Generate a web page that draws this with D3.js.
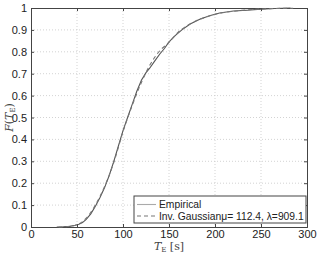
<!DOCTYPE html>
<html lang="en">
<head>
  <meta charset="UTF-8">
  <title>Empirical CDF vs Inverse Gaussian</title>
  <script src="https://d3js.org/d3.v7.min.js"></script>
  <style>
    body { margin: 0; background: #fff; }
  </style>
</head>
<body>
  <script>
    // data
    const empT = [28, 35, 42, 48, 52, 56, 60, 65, 70, 75, 80, 85, 90, 95, 100, 105, 110, 115, 120, 125, 129, 134, 140, 145, 150, 157, 164, 173, 184, 195, 205, 220, 235, 250, 265, 282];
    const empF = [0, 0.001, 0.003, 0.008, 0.013, 0.02, 0.035, 0.06, 0.095, 0.135, 0.18, 0.235, 0.3, 0.37, 0.44, 0.5, 0.56, 0.62, 0.67, 0.705, 0.725, 0.755, 0.79, 0.815, 0.845, 0.875, 0.9, 0.927, 0.95, 0.966, 0.977, 0.986, 0.99, 0.995, 0.998, 1.0];
    const igT = [30, 40, 50, 60, 70, 80, 90, 100, 110, 120, 130, 140, 150, 160, 170, 180, 190, 200, 220, 240, 260, 285];
    const igF = [0, 0.002, 0.01, 0.04, 0.1, 0.185, 0.295, 0.435, 0.555, 0.66, 0.745, 0.805, 0.843, 0.89, 0.92, 0.943, 0.958, 0.971, 0.985, 0.993, 0.997, 0.999];
    const xTicks = [0, 50, 100, 150, 200, 250, 300];
    const yTicks = [0, 0.1, 0.2, 0.3, 0.4, 0.5, 0.6, 0.7, 0.8, 0.9, 1];
    const legendLabels = ["Empirical", "Inv. Gaussian\u03bc= 112.4, \u03bb=909.1"];

    const width = 319, height = 253;
    const margin = { left: 31, right: 12, top: 8, bottom: 26 };
    const pw = width - margin.left - margin.right;
    const ph = height - margin.top - margin.bottom;
    const sans = "Liberation Sans, Arial, sans-serif";
    const serif = "DejaVu Serif, Liberation Serif, serif";

    const svg = d3.select("body").append("svg")
      .attr("width", width).attr("height", height);

    const g = svg.append("g").attr("transform", `translate(${margin.left},${margin.top})`);

    const x = d3.scaleLinear().domain([0, 300]).range([0, pw]);
    const y = d3.scaleLinear().domain([0, 1]).range([ph, 0]);

    // grid
    g.append("g").selectAll("line").data(xTicks.slice(1, -1)).enter().append("line")
      .attr("x1", d => x(d)).attr("x2", d => x(d)).attr("y1", 0).attr("y2", ph)
      .attr("stroke", "#c8c8c8").attr("stroke-width", 0.8).attr("stroke-dasharray", "1,2");
    g.append("g").selectAll("line").data(yTicks.slice(1, -1)).enter().append("line")
      .attr("y1", d => y(d)).attr("y2", d => y(d)).attr("x1", 0).attr("x2", pw)
      .attr("stroke", "#c8c8c8").attr("stroke-width", 0.8).attr("stroke-dasharray", "1,2");

    // axes
    const xAxis = g.append("g").attr("transform", `translate(0,${ph})`)
      .call(d3.axisBottom(x).tickValues(xTicks).tickSize(-3).tickPadding(3).tickFormat(d3.format("d")));
    const yAxis = g.append("g")
      .call(d3.axisLeft(y).tickValues(yTicks).tickSize(-3).tickPadding(4).tickFormat(d => d === 0 || d === 1 ? d : d3.format(".1f")(d)));
    g.append("g").attr("transform", `translate(${pw},0)`)
      .call(d3.axisRight(y).tickValues(yTicks).tickSize(-3).tickFormat(""));
    g.append("g")
      .call(d3.axisTop(x).tickValues(xTicks).tickSize(-3).tickFormat(""));
    [xAxis, yAxis].forEach(a => {
      a.selectAll("text").attr("font-size", 11).attr("font-family", sans).attr("fill", "#222");
    });
    g.selectAll(".domain").attr("stroke", "#444");
    g.selectAll(".tick line").attr("stroke", "#444");

    // curves
    const line = d3.line().x(d => x(d[0])).y(d => y(d[1]));
    g.append("path").datum(empT.map((t, i) => [t, empF[i]]))
      .attr("d", line).attr("fill", "none").attr("stroke", "#555").attr("stroke-width", 1.1);
    g.append("path").datum(igT.map((t, i) => [t, igF[i]]))
      .attr("d", d3.line().curve(d3.curveMonotoneX).x(d => x(d[0])).y(d => y(d[1])))
      .attr("fill", "none").attr("stroke", "#777").attr("stroke-width", 1.1)
      .attr("stroke-dasharray", "4,3");

    // legend
    const lg = svg.append("g").attr("transform", "translate(134,196)");
    lg.append("rect").attr("width", 172).attr("height", 27)
      .attr("fill", "#fff").attr("stroke", "#444").attr("stroke-width", 1);
    legendLabels.forEach((lab, i) => {
      const cy = 8.5 + i * 11.5;
      lg.append("line").attr("x1", 3).attr("x2", 22).attr("y1", cy).attr("y2", cy)
        .attr("stroke", i === 0 ? "#aaa" : "#777").attr("stroke-width", 1.1)
        .attr("stroke-dasharray", i === 0 ? null : "4,3");
      lg.append("text").attr("x", 25).attr("y", cy + 3.6)
        .attr("font-size", 10.3).attr("font-family", sans).attr("fill", "#222").text(lab);
    });

    // axis labels
    const xl = svg.append("text").attr("x", margin.left + pw / 2).attr("y", 250)
      .attr("text-anchor", "middle").attr("font-size", 11)
      .attr("font-family", serif).attr("fill", "#444");
    xl.append("tspan").attr("font-style", "italic").text("T");
    xl.append("tspan").attr("font-size", 7).attr("dy", 2).text("E");
    xl.append("tspan").attr("dy", -2).text(" [s]");

    const yl = svg.append("text")
      .attr("transform", `translate(13,${margin.top + ph / 2}) rotate(-90)`)
      .attr("text-anchor", "middle").attr("font-size", 11)
      .attr("font-family", serif).attr("fill", "#444");
    yl.append("tspan").attr("font-style", "italic").text("F");
    yl.append("tspan").text("(");
    yl.append("tspan").attr("font-style", "italic").text("T");
    yl.append("tspan").attr("font-size", 7).attr("dy", 2).text("E");
    yl.append("tspan").attr("dy", -2).text(")");
  </script>
</body>
</html>
